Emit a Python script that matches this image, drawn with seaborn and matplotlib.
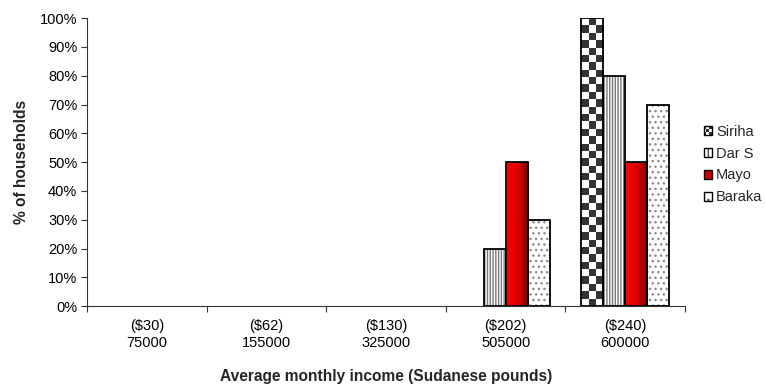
import numpy as np
import pandas as pd
import matplotlib
matplotlib.use("Agg")
import matplotlib.pyplot as plt
import seaborn as sns
from matplotlib.patches import Rectangle
from matplotlib.legend_handler import HandlerBase
from matplotlib.colors import LinearSegmentedColormap

# ---- data -------------------------------------------------------------
usd = ["($30)", "($62)", "($130)", "($202)", "($240)"]
sdp = ["75000", "155000", "325000", "505000", "600000"]
regions = ["Siriha", "Dar S", "Mayo", "Baraka"]
siriha = [0, 0, 0, 0, 100]
dar_s = [0, 0, 0, 20, 80]
mayo = [0, 0, 0, 50, 50]
baraka = [0, 0, 0, 30, 70]

categories = [f"{u}\n{s}" for u, s in zip(usd, sdp)]
values = {"Siriha": siriha, "Dar S": dar_s, "Mayo": mayo, "Baraka": baraka}
df = pd.DataFrame(
    [(c, r, v) for r in regions for c, v in zip(categories, values[r])],
    columns=["income", "region", "pct"],
)

# ---- style ------------------------------------------------------------
sns.set_style("white")
plt.rcParams["font.family"] = ["Liberation Sans", "DejaVu Sans"]
plt.rcParams["hatch.linewidth"] = 1.0

FS = 10.5
FS_LABEL = 11.2

fig = plt.figure(figsize=(7.66, 3.87), dpi=100)
ax = fig.add_axes([0.1136, 0.209, 0.7807, 0.744])

sns.barplot(data=df, x="income", y="pct", hue="region", hue_order=regions,
            order=categories, width=0.74, ax=ax, legend=False,
            palette=["white"] * 4, saturation=1, errorbar=None)

checker_dark = "#333333"
red_cmap = LinearSegmentedColormap.from_list("redgrad", ["#ff0000", "#e00000", "#7a0000"])
checker_cmap = LinearSegmentedColormap.from_list("ck", ["white", checker_dark])

def checker(nx, ny):
    yy, xx = np.mgrid[0:ny, 0:nx]
    return ((xx + yy) % 2).astype(float)

px_per_y = 288 / 100.0  # pixel height of one percent

for region, cont in zip(regions, ax.containers):
    for bar in cont:
        h = bar.get_height()
        x0, w = bar.get_x(), bar.get_width()
        if h <= 0:
            bar.set_visible(False)
            continue
        bar.set_facecolor("white")
        bar.set_linewidth(0)
        ext = (x0, x0 + w, 0, h)
        if region == "Siriha":
            ny = max(1, int(round(h * px_per_y / 7.3)))
            img = ax.imshow(checker(3, ny), extent=ext, origin="lower",
                            cmap=checker_cmap, interpolation="nearest",
                            aspect="auto", zorder=2)
            img.set_clip_path(bar)
        elif region == "Dar S":
            bar.set_hatch("||||||")
            bar.set_edgecolor("#7a7a7a")
        elif region == "Mayo":
            grad = np.linspace(0, 1, 64).reshape(1, -1)
            img = ax.imshow(grad, extent=ext, cmap=red_cmap, interpolation="bilinear",
                            aspect="auto", zorder=2)
            img.set_clip_path(bar)
        elif region == "Baraka":
            bar.set_hatch("...")
            bar.set_edgecolor("#8a8a8a")
        ax.add_patch(Rectangle((x0, 0), w, h, fill=False, edgecolor="black",
                               linewidth=1.3, zorder=4))

ax.set_ylim(0, 100)
ax.set_xlim(-0.5, len(categories) - 0.5)

# ---- axes -------------------------------------------------------------
ax.set_yticks(np.arange(0, 101, 10))
ax.set_yticklabels([f"{v}%" for v in range(0, 101, 10)])
ax.set_xticks(range(len(categories)))
ax.set_xticklabels(categories, linespacing=1.3)
ax.set_xticks(np.arange(-0.5, len(categories), 1), minor=True)
ax.tick_params(axis="x", which="major", length=0, labelsize=FS, pad=9, colors="black")
ax.tick_params(axis="x", which="minor", length=4, width=0.8, color="#333333",
               direction="out", bottom=True)
ax.tick_params(axis="y", length=4, width=0.8, color="#333333", direction="out", left=True,
               labelsize=FS, pad=3, labelcolor="black")

for side in ["top", "right"]:
    ax.spines[side].set_visible(False)
for side in ["left", "bottom"]:
    ax.spines[side].set_color("#333333")
    ax.spines[side].set_linewidth(0.8)

ax.set_xlabel("Average monthly income (Sudanese pounds)", fontsize=FS_LABEL,
              fontweight="bold", labelpad=14)
ax.set_ylabel("% of households", fontsize=FS_LABEL, fontweight="bold", labelpad=8)

# ---- legend -----------------------------------------------------------
class PatternHandler(HandlerBase):
    def __init__(self, kind):
        super().__init__()
        self.kind = kind

    def create_artists(self, legend, orig_handle, xdescent, ydescent,
                       width, height, fontsize, trans):
        x0, y0 = -xdescent, -ydescent
        arts = []
        if self.kind == "Siriha":
            n = 3
            cw, ch = width / n, height / n
            arts.append(Rectangle((x0, y0), width, height, facecolor="white",
                                  edgecolor="none", transform=trans))
            for i in range(n):
                for j in range(n):
                    if (i + j) % 2 == 0:
                        arts.append(Rectangle((x0 + i * cw, y0 + j * ch), cw, ch,
                                              facecolor=checker_dark, edgecolor="none",
                                              transform=trans))
        elif self.kind == "Dar S":
            arts.append(Rectangle((x0, y0), width, height, facecolor="white",
                                  edgecolor="#444444", hatch="|||", lw=0, transform=trans))
        elif self.kind == "Mayo":
            arts.append(Rectangle((x0, y0), width, height, facecolor="#d00000",
                                  edgecolor="none", transform=trans))
        elif self.kind == "Baraka":
            arts.append(Rectangle((x0, y0), width, height, facecolor="white",
                                  edgecolor="#777777", hatch="..", lw=0, transform=trans))
        arts.append(Rectangle((x0, y0), width, height, fill=False,
                              edgecolor="black", lw=1.0, transform=trans))
        return arts

handles = [Rectangle((0, 0), 1, 1) for _ in regions]
leg = fig.legend(handles, regions,
                 handler_map={h: PatternHandler(r) for h, r in zip(handles, regions)},
                 loc="upper left", bbox_to_anchor=(0.911, 0.693),
                 frameon=False, fontsize=FS, handlelength=0.55, handleheight=0.55,
                 handletextpad=0.3, labelspacing=0.54, borderaxespad=0)

fig.savefig("out.png", dpi=100)
